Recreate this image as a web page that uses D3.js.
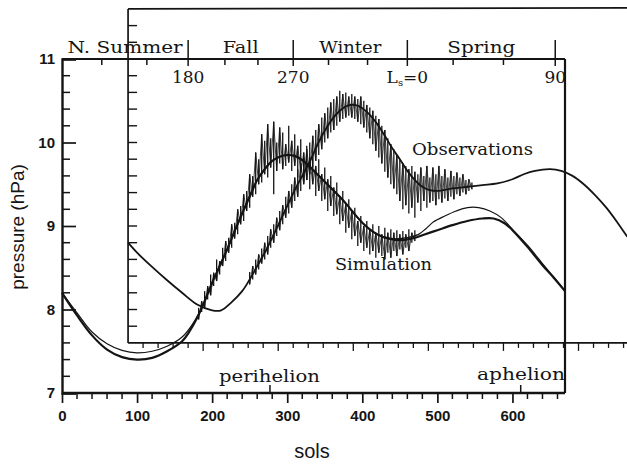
<!DOCTYPE html>
<html><head><meta charset="utf-8">
<script src="https://cdn.jsdelivr.net/npm/d3@7"></script>
<style>
html,body{margin:0;padding:0;background:#fff;}
svg{display:block;}
.serif{font-family:"DejaVu Serif","Liberation Serif",serif;fill:#151515;}
.sans{font-family:"Liberation Sans",Arial,sans-serif;fill:#151515;}
</style></head>
<body>
<svg id="chart" width="627" height="464"></svg>
<script>
// ---------------- data (sols, pressure hPa) ----------------
const simulation = [[0,8.20],[20,7.93],[40,7.69],[60,7.52],[80,7.43],[100,7.40],[120,7.42],[140,7.50],[160,7.62],[170,7.74],[180,7.90],[190,8.10],[200,8.32],[210,8.52],[220,8.72],[230,8.94],[240,9.15],[250,9.35],[260,9.55],[270,9.68],[280,9.78],[290,9.83],[300,9.85],[310,9.84],[320,9.79],[330,9.71],[340,9.62],[350,9.53],[360,9.44],[370,9.35],[380,9.25],[390,9.14],[400,9.04],[410,8.96],[420,8.90],[430,8.86],[440,8.84],[450,8.83],[460,8.84],[470,8.86],[480,8.89],[500,8.95],[520,9.01],[540,9.06],[560,9.09],[575,9.09],[590,9.03],[600,8.95],[620,8.75],[640,8.53],[655,8.38],[670,8.22]];
const obsLower = [[0,8.20],[20,7.96],[40,7.73],[60,7.59],[80,7.51],[100,7.48],[120,7.50],[140,7.56],[160,7.67],[175,7.84],[190,8.10],[200,8.32],[220,8.72],[240,9.15],[260,9.55],[280,9.78],[300,9.85],[320,9.79],[340,9.62],[360,9.44],[380,9.25],[400,9.04],[420,8.90],[440,8.85],[460,8.86],[475,8.90],[485,8.97],[495,9.05],[510,9.12],[525,9.18],[540,9.22],[555,9.22],[570,9.18],[585,9.10],[600,8.96],[620,8.77],[640,8.55],[655,8.39],[670,8.22]];
const obsUpper = [[88,8.80],[100,8.68],[120,8.51],[140,8.35],[160,8.20],[180,8.06],[200,7.99],[212,7.99],[225,8.08],[240,8.22],[250,8.36],[260,8.52],[270,8.68],[280,8.86],[290,9.05],[300,9.24],[310,9.43],[320,9.60],[330,9.77],[340,9.97],[350,10.14],[360,10.28],[370,10.38],[380,10.44],[390,10.45],[400,10.41],[410,10.33],[420,10.22],[430,10.08],[440,9.93],[450,9.80],[460,9.66],[470,9.55],[480,9.47],[490,9.43],[500,9.42],[520,9.45],[540,9.47],[560,9.49],[580,9.51],[600,9.56],[615,9.62],[630,9.66],[650,9.68],[665,9.66],[680,9.60],[695,9.50],[710,9.37],[725,9.22],[740,9.04],[753,8.87]];
// daily spread of the observations: [sol, low, high]
const noiseLower = [[182,7.88,8.02],[186,7.97,8.10],[190,8.02,8.22],[194,8.12,8.28],[198,8.17,8.42],[202,8.28,8.44],[206,8.34,8.60],[210,8.42,8.58],[214,8.52,8.74],[218,8.58,8.82],[222,8.68,8.86],[226,8.74,9.02],[230,8.85,9.04],[234,8.90,9.20],[238,9.02,9.24],[242,9.06,9.38],[246,9.18,9.42],[250,9.22,9.62],[254,9.35,9.60],[258,9.38,9.88],[262,9.50,9.80],[266,9.52,10.10],[270,9.62,10.02],[274,9.58,10.22],[278,9.70,10.05],[282,9.38,10.25],[286,9.66,10.00],[290,9.75,10.18],[294,9.68,10.12],[298,9.72,9.98],[302,9.76,10.20],[306,9.66,10.02],[310,9.72,10.10],[314,9.58,9.96],[318,9.64,10.04],[322,9.52,9.88],[326,9.55,9.96],[330,9.44,9.82],[334,9.50,9.86],[338,9.36,9.72],[342,9.42,9.80],[346,9.30,9.62],[350,9.32,9.70],[354,9.18,9.56],[358,9.24,9.60],[362,9.12,9.46],[366,9.14,9.52],[370,9.02,9.36],[374,9.06,9.42],[378,8.92,9.26],[382,8.98,9.32],[386,8.84,9.18],[390,8.88,9.22],[394,8.76,9.06],[398,8.80,9.12],[402,8.70,9.00],[406,8.74,9.06],[410,8.66,8.96],[414,8.70,9.02],[418,8.62,8.92],[422,8.68,9.00],[426,8.64,8.90],[430,8.60,8.98],[434,8.68,8.92],[438,8.62,8.96],[442,8.70,8.92],[446,8.64,8.95],[450,8.72,8.90],[454,8.66,8.94],[458,8.74,8.90],[462,8.70,8.96],[466,8.80,8.92],[470,8.82,8.95]];
const noiseUpper = [[250,8.30,8.45],[254,8.36,8.52],[258,8.42,8.60],[262,8.48,8.66],[266,8.55,8.73],[270,8.60,8.80],[274,8.66,8.88],[278,8.74,8.96],[282,8.80,9.02],[286,8.88,9.10],[290,8.95,9.18],[294,9.02,9.25],[298,9.10,9.35],[302,9.15,9.42],[306,9.22,9.50],[310,9.30,9.58],[314,9.35,9.68],[318,9.42,9.75],[322,9.50,9.82],[326,9.55,9.92],[330,9.62,10.00],[334,9.70,10.08],[338,9.78,10.15],[342,9.85,10.22],[346,9.92,10.30],[350,10.00,10.35],[354,10.05,10.42],[358,10.12,10.48],[362,10.15,10.52],[366,10.20,10.55],[370,10.25,10.62],[374,10.28,10.58],[378,10.30,10.60],[382,10.32,10.55],[386,10.30,10.58],[390,10.28,10.55],[394,10.25,10.52],[398,10.22,10.55],[402,10.18,10.50],[406,10.12,10.45],[410,10.05,10.42],[414,9.98,10.38],[418,9.90,10.32],[422,9.82,10.28],[426,9.75,10.20],[430,9.65,10.15],[434,9.58,10.05],[438,9.50,9.98],[442,9.45,9.92],[446,9.38,9.85],[450,9.30,9.80],[454,9.20,9.75],[458,9.25,9.72],[462,9.15,9.68],[466,9.22,9.72],[470,9.10,9.65],[474,9.28,9.62],[478,9.18,9.70],[482,9.30,9.60],[486,9.22,9.72],[490,9.28,9.58],[494,9.30,9.70],[498,9.25,9.62],[502,9.32,9.72],[506,9.28,9.60],[510,9.33,9.68],[514,9.30,9.58],[518,9.35,9.66],[522,9.32,9.60],[526,9.38,9.64],[530,9.36,9.58],[534,9.40,9.62],[538,9.38,9.55],[542,9.42,9.56],[546,9.44,9.52]];
const xTickLabels = [0,100,200,300,400,500,600];
const yTickLabels = [7,8,9,10,11];
const lsMinorSols = [53,113,217,261,355,407,521,588];
const lsMajorSols = [168,308,460,657];
const lsMajorLabels = ["180","270","Ls=0","90"];
const seasonNames = ["N. Summer","Fall","Winter","Spring"];
const perihelionSol = 277, aphelionSol = 611;
const insetOriginSol = 88, insetBottom = 7.6, insetTop = 11.6;

// ---------------- layout ----------------
const svg = d3.select("#chart");
const ink = "#141414";
const x = d3.scaleLinear().domain([0,670]).range([62,565]);
const y = d3.scaleLinear().domain([7,11]).range([393,59]);
const g = svg.append("g");

// ---- inset (shifted) frame ----
const ixEnd = 753;
g.append("line").attr("x1",x(insetOriginSol)).attr("x2",x(insetOriginSol)).attr("y1",y(insetTop)).attr("y2",y(insetBottom)).attr("stroke",ink).attr("stroke-width",1.7);
g.append("line").attr("x1",x(insetOriginSol)).attr("x2",x(ixEnd)).attr("y1",y(insetTop)).attr("y2",y(insetTop)-1).attr("stroke",ink).attr("stroke-width",1.7);
g.append("line").attr("x1",x(insetOriginSol)).attr("x2",x(ixEnd)).attr("y1",y(insetBottom)).attr("y2",y(insetBottom)).attr("stroke",ink).attr("stroke-width",1.7);
d3.range(insetBottom+0.2, insetTop-0.1, 0.2).forEach(v=>{
  g.append("line").attr("x1",x(insetOriginSol)).attr("x2",x(insetOriginSol)+9).attr("y1",y(v)).attr("y2",y(v)).attr("stroke",ink).attr("stroke-width",1.4);
});
d3.range(20, ixEnd-insetOriginSol, 20).forEach((s,i)=>{
  const big = s%100===0;
  g.append("line").attr("x1",x(insetOriginSol+s)).attr("x2",x(insetOriginSol+s)).attr("y1",y(insetBottom)).attr("y2",y(insetBottom)+(big?8:5)).attr("stroke",ink).attr("stroke-width",1.3);
});

// ---- main frame ----
const frame = g.append("g").attr("stroke",ink).attr("stroke-width",2.2).attr("fill","none");
frame.append("line").attr("x1",x(0)).attr("x2",x(670)).attr("y1",y(11)).attr("y2",y(11));
frame.append("line").attr("x1",x(670)).attr("x2",x(670)).attr("y1",y(11)).attr("y2",y(7));

// y axis
const yAx = g.append("g").attr("transform",`translate(${x(0)},0)`)
  .call(d3.axisLeft(y).tickValues(yTickLabels).tickSize(-14).tickPadding(7).tickFormat(d3.format("d")));
yAx.select(".domain").attr("stroke",ink).attr("stroke-width",2.4);
yAx.selectAll(".tick line").attr("stroke",ink).attr("stroke-width",1.7);
yAx.selectAll("text").attr("class","sans").style("font-size","15px").style("font-weight","bold").attr("fill",ink);
d3.range(7.2,10.9,0.2).forEach(v=>{
  if (Math.abs(v-Math.round(v))<0.01) return;
  g.append("line").attr("x1",x(0)).attr("x2",x(0)+8).attr("y1",y(v)).attr("y2",y(v)).attr("stroke",ink).attr("stroke-width",1.5);
});

// x axis
const xAx = g.append("g").attr("transform",`translate(0,${y(7)})`)
  .call(d3.axisBottom(x).tickValues(xTickLabels).tickSize(10).tickPadding(7));
xAx.select(".domain").attr("stroke",ink).attr("stroke-width",2.4).attr("d",`M${x(0)},0H${x(670)}`);
xAx.selectAll(".tick line").attr("stroke",ink).attr("stroke-width",1.7);
xAx.selectAll("text").attr("class","sans").style("font-size","15px").style("font-weight","bold").attr("fill",ink);
d3.range(20,670,20).forEach(s=>{
  if (s%100===0) return;
  g.append("line").attr("x1",x(s)).attr("x2",x(s)).attr("y1",y(7)).attr("y2",y(7)+6).attr("stroke",ink).attr("stroke-width",1.5);
});
[perihelionSol, aphelionSol].forEach(s=>{
  g.append("line").attr("x1",x(s)).attr("x2",x(s)).attr("y1",y(7)).attr("y2",y(7)-8).attr("stroke",ink).attr("stroke-width",1.5);
});

// Ls axis on top
lsMinorSols.forEach(s=>{
  g.append("line").attr("x1",x(s)).attr("x2",x(s)).attr("y1",y(11)).attr("y2",y(11)+6).attr("stroke",ink).attr("stroke-width",1.5);
});
lsMajorSols.forEach(s=>{
  g.append("line").attr("x1",x(s)).attr("x2",x(s)).attr("y1",y(11)-19).attr("y2",y(11)+7).attr("stroke",ink).attr("stroke-width",1.5);
});
lsMajorLabels.forEach((t,i)=>{
  const tx = g.append("text").attr("class","serif").attr("x",x(lsMajorSols[i])).attr("y",y(11)+24)
    .attr("text-anchor","middle").style("font-size","17px");
  if (t.startsWith("Ls")) {
    tx.append("tspan").text("L");
    tx.append("tspan").text("s").attr("dy",3).style("font-size","10px");
    tx.append("tspan").text("=0").attr("dy",-3);
  } else {
    tx.text(t);
  }
});
const seasonBounds = [0].concat(lsMajorSols);
const seasonWidths = [115,36,62,68];
seasonNames.forEach((t,i)=>{
  const cx = (x(seasonBounds[i])+x(seasonBounds[i+1]))/2;
  g.append("text").attr("class","serif").attr("x",cx).attr("y",y(11)-6).attr("text-anchor","middle")
    .style("font-size","16px").attr("textLength",seasonWidths[i]).attr("lengthAdjust","spacingAndGlyphs").text(t);
});

// ---- curves ----
const line = d3.line().x(d=>x(d[0])).y(d=>y(d[1])).curve(d3.curveCatmullRom);
g.append("path").datum(obsLower).attr("d",line).attr("fill","none").attr("stroke",ink).attr("stroke-width",1.2);
g.append("path").datum(simulation).attr("d",line).attr("fill","none").attr("stroke",ink).attr("stroke-width",2.2);
g.append("path").datum(obsUpper).attr("d",line).attr("fill","none").attr("stroke",ink).attr("stroke-width",1.8);

function drawNoise(arr){
  const grp = g.append("g").attr("stroke",ink).attr("fill","none");
  grp.selectAll("line").data(arr).join("line")
    .attr("x1",d=>x(d[0])).attr("x2",d=>x(d[0])).attr("y1",d=>y(d[1])).attr("y2",d=>y(d[2])).attr("stroke-width",1.3);
  const zig = d3.line().x(d=>x(d[0])).y((d,i)=>y(i%2?d[2]:d[1]));
  grp.append("path").datum(arr).attr("d",zig).attr("stroke-width",0.8);
}
drawNoise(noiseLower);
drawNoise(noiseUpper);

// ---- annotations ----
g.append("text").attr("class","serif").attr("x",412).attr("y",155).style("font-size","17px")
  .attr("textLength",121).attr("lengthAdjust","spacingAndGlyphs").text("Observations");
g.append("text").attr("class","serif").attr("x",335).attr("y",270).style("font-size","17px")
  .attr("textLength",97).attr("lengthAdjust","spacingAndGlyphs").text("Simulation");
g.append("text").attr("class","serif").attr("x",219).attr("y",382).style("font-size","16px")
  .attr("textLength",101).attr("lengthAdjust","spacingAndGlyphs").text("perihelion");
g.append("text").attr("class","serif").attr("x",477).attr("y",380).style("font-size","16px")
  .attr("textLength",88).attr("lengthAdjust","spacingAndGlyphs").text("aphelion");
g.append("text").attr("class","sans").attr("x",312).attr("y",458).attr("text-anchor","middle").style("font-size","20px").text("sols");
g.append("text").attr("class","sans").attr("transform","translate(24,227) rotate(-90)").attr("text-anchor","middle")
  .style("font-size","19px").text("pressure (hPa)");
</script>
</body></html>
